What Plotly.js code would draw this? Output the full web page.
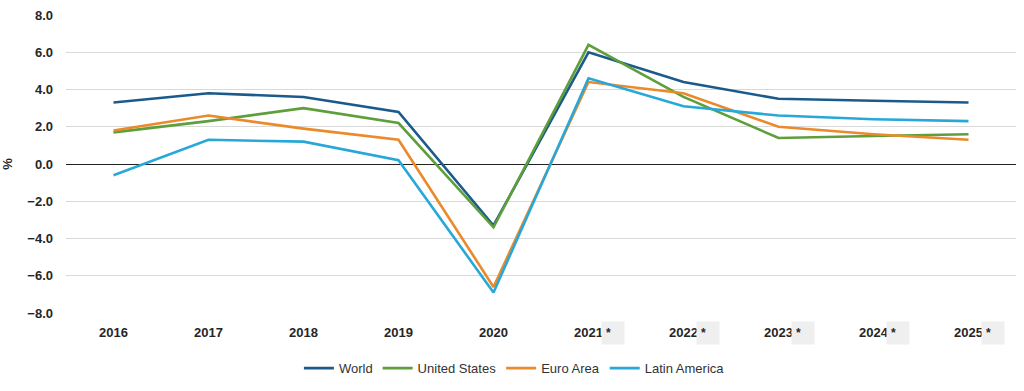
<!DOCTYPE html>
<html>
<head>
<meta charset="utf-8">
<script src="https://cdn.plot.ly/plotly-3.0.1.min.js"></script>
<style>
html,body{margin:0;padding:0;background:#fff;}
#chart{width:1024px;height:391px;}
</style>
</head>
<body>
<div id="chart"></div>
<script>
const years = ["2016","2017","2018","2019","2020","2021","2022","2023","2024","2025"];
const forecastYears = ["2021","2022","2023","2024","2025"];
const world = [3.3, 3.8, 3.6, 2.8, -3.3, 6.0, 4.4, 3.5, 3.4, 3.3];
const unitedStates = [1.7, 2.3, 3.0, 2.2, -3.4, 6.4, 3.6, 1.4, 1.5, 1.6];
const euroArea = [1.8, 2.6, 1.9, 1.3, -6.6, 4.4, 3.8, 2.0, 1.6, 1.3];
const latinAmerica = [-0.6, 1.3, 1.2, 0.2, -6.9, 4.6, 3.1, 2.6, 2.4, 2.3];
const yTicks = [-8, -6, -4, -2, 0, 2, 4, 6, 8];

function series(name, vals, color) {
  return {
    type: 'scatter', mode: 'lines', name: name, x: years, y: vals,
    line: {color: color, width: 2.6}, hoverinfo: 'skip'
  };
}

const data = [
  series('World', world, '#1b5a8a'),
  series('United States', unitedStates, '#5e9f3b'),
  series('Euro Area', euroArea, '#ea8a2a'),
  series('Latin America', latinAmerica, '#28a8d8')
];

const annotations = forecastYears.map(y => ({
  x: years.indexOf(y), xref: 'x', y: 0, yref: 'paper', yanchor: 'top', xanchor: 'center',
  xshift: 24, yshift: -8, text: '*', showarrow: false,
  width: 14, align: 'left',
  bgcolor: '#efefef', borderpad: 4,
  font: {family: 'Liberation Sans, Arial, sans-serif', size: 12, color: '#262626', weight: 'bold'}
}));

const layout = {
  width: 1024, height: 391,
  margin: {l: 66, r: 8, t: 15, b: 78},
  paper_bgcolor: '#fff', plot_bgcolor: '#fff',
  font: {family: 'Liberation Sans, Arial, sans-serif', color: '#262626'},
  showlegend: true,
  legend: {
    orientation: 'h', x: 0.472, xanchor: 'center', y: -0.185, yanchor: 'middle',
    font: {size: 13, color: '#333'}, bgcolor: 'rgba(0,0,0,0)'
  },
  xaxis: {
    type: 'category', range: [-0.5, 9.5], showgrid: false, zeroline: false,
    showline: false, ticks: '', ticklabelstandoff: 10,
    tickfont: {size: 13, color: '#262626', weight: 'bold'}
  },
  yaxis: {
    range: [-8, 8], tickvals: yTicks, tickformat: '.1f',
    showgrid: true, gridcolor: '#d9d9d9', gridwidth: 1,
    zeroline: true, zerolinecolor: '#222', zerolinewidth: 1,
    showline: false, ticks: '', ticklabelstandoff: 12,
    tickfont: {size: 13, color: '#262626', weight: 'bold'},
    title: {text: '%', standoff: 28, font: {size: 13, color: '#262626', weight: 'bold'}}
  },
  annotations: annotations
};

Plotly.newPlot('chart', data, layout, {displayModeBar: false, staticPlot: true});
</script>
</body>
</html>
